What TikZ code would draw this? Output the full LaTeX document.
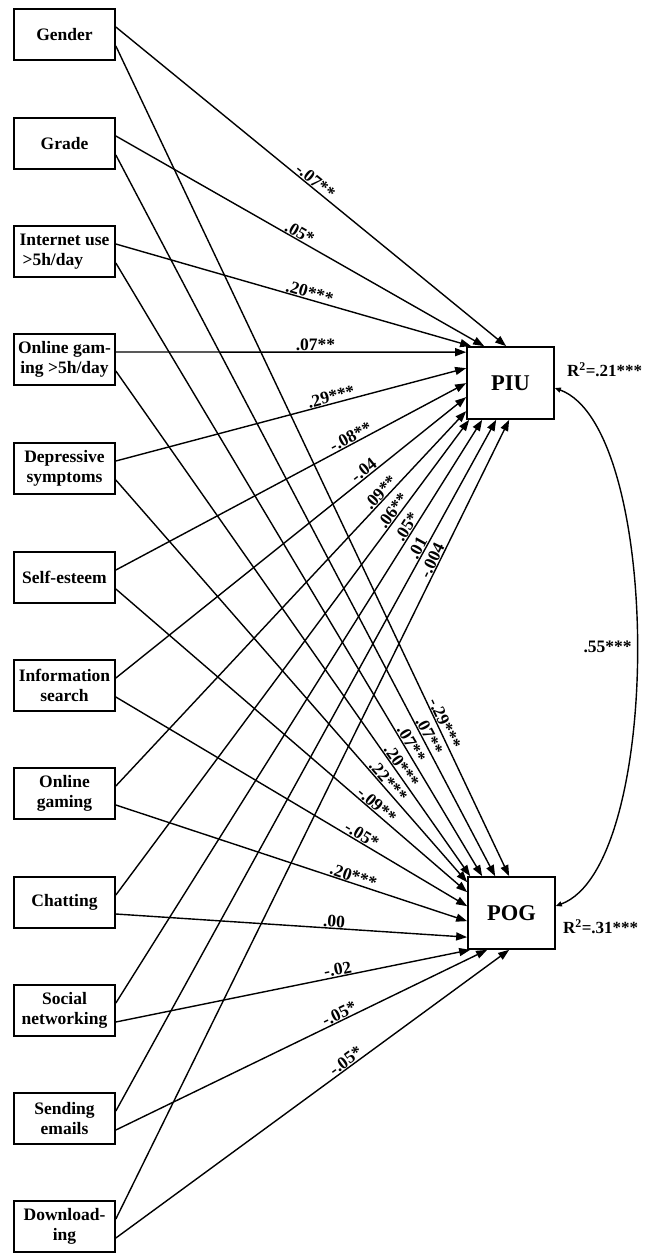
\documentclass[tikz,border=0pt]{standalone}
\usepackage{fontspec}
\setmainfont{Liberation Serif}
\usetikzlibrary{arrows.meta}
\begin{document}
\begin{tikzpicture}[x=1pt,y=-1pt,
  src/.style={draw,line width=1.7pt,minimum width=101pt,minimum height=51pt,inner sep=1pt,
    font=\fontsize{17.5}{20}\selectfont\bfseries,align=center},
  dv/.style={draw,line width=1.7pt,minimum width=87pt,minimum height=72pt,
    font=\fontsize{22.5}{24}\selectfont\bfseries},
  pth/.style={line width=1.4pt,-{Triangle[length=11pt,width=8pt]}},
  cov/.style={line width=1.4pt,{Triangle[length=6pt,width=5pt]}-{Triangle[length=6pt,width=5pt]}},
  lbl/.style={sloped,above,inner sep=0.5pt,font=\fontsize{17.5}{18}\selectfont\bfseries},
  rsq/.style={anchor=west,inner sep=0pt,font=\fontsize{17}{18}\selectfont\bfseries}
]
\useasboundingbox (0,0) rectangle (649,1253);

% predictors
\node[src] (gen) at (64.5,34.5) {Gender};
\node[src] (gra) at (64.5,143.5) {Grade};
\node[src,align=left] (int) at (64.5,251.5) {Internet use\\\hspace*{3pt}>5h/day};
\node[src] (ogh) at (64.5,359.5) {Online gam-\\ing >5h/day};
\node[src] (dep) at (64.5,468.5) {Depressive\\symptoms};
\node[src] (sel) at (64.5,577.5) {Self-esteem};
\node[src] (inf) at (64.5,685.5) {Information\\search};
\node[src] (ong) at (64.5,793.5) {Online\\gaming};
\node[src] (cha) at (64.5,902.5) {Chatting};
\node[src] (soc) at (64.5,1010.5) {Social\\networking};
\node[src] (sen) at (64.5,1118.5) {Sending\\emails};
\node[src] (dow) at (64.5,1226.5) {Download-\\ing};

% outcomes
\node[dv] (piu) at (510.5,383) {PIU};
\node[dv] (pog) at (511.5,913) {POG};
\node[rsq] (rpiu) at ([xshift=12pt,yshift=13pt]piu.east) {R\textsuperscript{2}=.21***};
\node[rsq] (rpog) at ([xshift=7pt,yshift=-14pt]pog.east) {R\textsuperscript{2}=.31***};

% paths to PIU
\draw[pth] ([yshift=7.5pt]gen.east) -- node[lbl,pos=.50]{-.07**} ([xshift=40pt]piu.north west);
\draw[pth] ([yshift=7.5pt]gra.east) -- node[lbl,pos=.49]{.05*} ([xshift=18pt]piu.north west);
\draw[pth] ([yshift=7.5pt]int.east) -- node[lbl,pos=.54]{.20***} ([xshift=5pt]piu.north west);
\draw[pth] ([yshift=7.5pt]ogh.east) -- node[lbl,pos=.57]{.07**} ([yshift=-6pt]piu.north west);
\draw[pth] ([yshift=7.5pt]dep.east) -- node[lbl,pos=.62]{.29***} ([yshift=-22pt]piu.north west);
\draw[pth] ([yshift=7.5pt]sel.east) -- node[lbl,pos=.68]{-.08**} ([yshift=-37pt]piu.north west);
\draw[pth] ([yshift=7.5pt]inf.east) -- node[lbl,pos=.72]{-.04} ([yshift=-51pt]piu.north west);
\draw[pth] ([yshift=7.5pt]ong.east) -- node[lbl,pos=.77]{.09**} ([yshift=-65pt]piu.north west);
\draw[pth] ([yshift=7.5pt]cha.east) -- node[lbl,pos=.80]{.06**} ([xshift=3pt]piu.south west);
\draw[pth] ([yshift=7.5pt]soc.east) -- node[lbl,pos=.81]{.05*} ([xshift=16pt]piu.south west);
\draw[pth] ([yshift=7.5pt]sen.east) -- node[lbl,pos=.81]{.01} ([xshift=30pt]piu.south west);
\draw[pth] ([yshift=7.5pt]dow.east) -- node[lbl,pos=.82]{-.004} ([xshift=43pt]piu.south west);

% paths to POG
\draw[pth] ([yshift=-11.5pt]gen.east) -- node[lbl,pos=.82]{-.29***} ([xshift=42pt]pog.north west);
\draw[pth] ([yshift=-11.5pt]gra.east) -- node[lbl,pos=.81]{.07**} ([xshift=28pt]pog.north west);
\draw[pth] ([yshift=-11.5pt]int.east) -- node[lbl,pos=.79]{.07**} ([xshift=15pt]pog.north west);
\draw[pth] ([yshift=-11.5pt]ogh.east) -- node[lbl,pos=.79]{.20***} ([xshift=3pt]pog.north west);
\draw[pth] ([yshift=-11.5pt]dep.east) -- node[lbl,pos=.76]{.22***} ([yshift=-6pt]pog.north west);
\draw[pth] ([yshift=-11.5pt]sel.east) -- node[lbl,pos=.73]{-.09**} ([yshift=-16pt]pog.north west);
\draw[pth] ([yshift=-11.5pt]inf.east) -- node[lbl,pos=.69]{-.05*} ([yshift=-30pt]pog.north west);
\draw[pth] ([yshift=-11.5pt]ong.east) -- node[lbl,pos=.67]{.20***} ([yshift=-45pt]pog.north west);
\draw[pth] ([yshift=-11.5pt]cha.east) -- node[lbl,pos=.62]{.00} ([yshift=-61pt]pog.north west);
\draw[pth] ([yshift=-11.5pt]soc.east) -- node[lbl,pos=.63]{-.02} ([xshift=3pt]pog.south west);
\draw[pth] ([yshift=-11.5pt]sen.east) -- node[lbl,pos=.61]{-.05*} ([xshift=20pt]pog.south west);
\draw[pth] ([yshift=-11.5pt]dow.east) -- node[lbl,pos=.595]{-.05*} ([xshift=42pt]pog.south west);

% covariance
\draw[cov] ([yshift=-5pt]piu.east) .. controls +(108,40) and +(108,-40) .. node[pos=.5,left,inner sep=4pt,font=\fontsize{17.5}{18}\selectfont\bfseries]{.55***} ([yshift=7pt]pog.east);
\end{tikzpicture}
\end{document}
